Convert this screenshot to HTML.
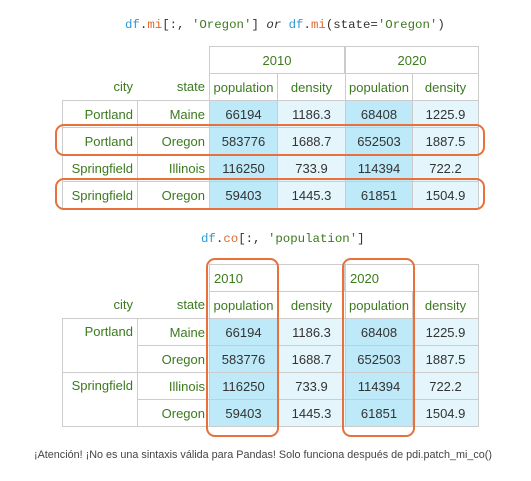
<!DOCTYPE html>
<html><head><meta charset="utf-8">
<style>
body{margin:0;background:#fff;width:531px;height:481px;position:relative;overflow:hidden;font-family:"Liberation Sans",sans-serif}
.c{position:absolute;box-sizing:border-box;display:flex;align-items:center;font-size:13px;color:#3b7a1e;padding:0 4px;white-space:nowrap}
.n{color:#333;justify-content:center}
.code{position:absolute;font-family:"Liberation Mono",monospace;font-size:12.4px;color:#333;white-space:pre}
.b{color:#2a9ad8}.o{color:#e06a2c}.s{color:#3b7a1e}
.box{position:absolute;border:2px solid #e8703a;border-radius:9px;box-sizing:border-box}
</style></head><body>
<div class="code" style="left:125px;top:18px"><span class="b">df</span>.<span class="o">mi</span>[:, <span class="s">'Oregon'</span>] <i>or</i> <span class="b">df</span>.<span class="o">mi</span>(state=<span class="s">'Oregon'</span>)</div>
<div class="code" style="left:201px;top:232px"><span class="b">df</span>.<span class="o">co</span>[:, <span class="s">'population'</span>]</div>
<div id="t"></div>
<div class="box" style="left:55px;top:124px;width:430px;height:32px"></div>
<div class="box" style="left:55px;top:178px;width:430px;height:32px"></div>
<div class="box" style="left:206px;top:258px;width:73px;height:179px"></div>
<div class="box" style="left:342px;top:258px;width:73px;height:179px"></div>
<div style="position:absolute;left:34px;top:449px;font-size:10.8px;color:#444">¡Atención! ¡No es una sintaxis válida para Pandas! Solo funciona después de pdi.patch_mi_co()</div>
<script>
const cities=['Portland','Portland','Springfield','Springfield'];
const states=['Maine','Oregon','Illinois','Oregon'];
const pop2010=['66194','583776','116250','59403'];
const den2010=['1186.3','1688.7','733.9','1445.3'];
const pop2020=['68408','652503','114394','61851'];
const den2020=['1225.9','1887.5','722.2','1504.9'];
const xs=[62,137,209,277,345,412,479];
const root=document.getElementById('t');
function cell(x,y,w,h,txt,cls,bg,border,name,align){
  const d=document.createElement('div');
  d.className='c '+(cls||'');
  d.style.cssText=`left:${x}px;top:${y}px;width:${w}px;height:${h}px;`+(bg?`background:${bg};`:'')+(border||'')+(align?`justify-content:${align};`:'');
  d.textContent=txt;
  
  
  root.appendChild(d);
}
const bd='border:1px solid #ccc;';
function table(y0,merged){
  const h1=y0,h2=y0+27,r0=y0+54,rh=27;
  const al=merged?'flex-start':'center';
  cell(xs[2],h1,xs[4]-xs[2],28,'2010','',null,bd,'year-header-2010',al);
  cell(xs[4],h1,xs[6]-xs[4],28,'2020','',null,bd,'year-header-2020',al);
  cell(xs[0],h2,xs[1]-xs[0],27,'city','',null,'','city-header','flex-end');
  cell(xs[1],h2,xs[2]-xs[1],27,'state','',null,'','state-header','flex-end');
  ['population','density','population','density'].forEach((t,i)=>cell(xs[2+i],h2,xs[3+i]-xs[2+i]+(i<3?1:0),28,t,'',null,bd,'column-header-'+t,'center'));
  for(let r=0;r<4;r++){
    const y=r0+r*rh;
    if(!merged||r%2==0) cell(xs[0],y,xs[1]-xs[0]+1,merged?rh*2+1:rh+1,cities[r],'',null,bd+(merged?'align-items:flex-start;padding-top:5px;':''),'city-cell','flex-end');
    cell(xs[1],y,xs[2]-xs[1]+1,rh+1,states[r],'',null,bd,'state-cell','flex-end');
    [[pop2010,'#bde9f8'],[den2010,'#e4f6fc'],[pop2020,'#bde9f8'],[den2020,'#e4f6fc']].forEach(([a,bg],i)=>cell(xs[2+i],y,xs[3+i]-xs[2+i]+(i<3?1:0),rh+1,a[r],'n',bg,bd,'value-cell'));
  }
}
table(46,false);
table(264,true);
</script>
</body></html>
